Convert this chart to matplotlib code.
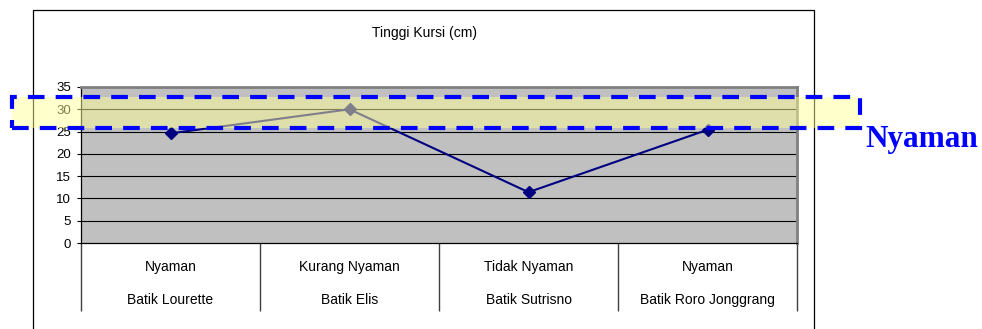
import matplotlib.pyplot as plt
from matplotlib.patches import Rectangle
from matplotlib.transforms import blended_transform_factory

plt.rcParams['font.family'] = ['Liberation Sans', 'DejaVu Sans']
plt.rcParams['lines.scale_dashes'] = False

# data
brands = ['Batik Lourette', 'Batik Elis', 'Batik Sutrisno', 'Batik Roro Jonggrang']
comfort = ['Nyaman', 'Kurang Nyaman', 'Tidak Nyaman', 'Nyaman']
height_cm = [24.6, 30.0, 11.4, 25.4]
yticks = [0, 5, 10, 15, 20, 25, 30, 35]
band = [25.7, 32.8]   # the "Nyaman" highlight band

W, H = 982, 329
fig = plt.figure(figsize=(W / 100, H / 100), dpi=100)
fig.patch.set_facecolor('white')

# plot area in pixel terms
left, right, top, bottom = 81, 797, 87, 243
ax = fig.add_axes([left / W, 1 - bottom / H, (right - left) / W, (bottom - top) / H])
ax.set_facecolor('#c0c0c0')

x = list(range(len(brands)))
ax.plot(x, height_cm, color='#000080', lw=1.5, marker='D', markersize=6,
        markerfacecolor='#000080', markeredgecolor='#000080', zorder=3, clip_on=False)

ax.set_xlim(-0.5, len(brands) - 0.5)
ax.set_ylim(0, 35)
ax.set_yticks(yticks)
ax.set_yticklabels([str(v) for v in yticks], fontsize=9.5)
ax.tick_params(axis='y', length=3, width=0.8, pad=4, colors='black')

for v in yticks[1:-1]:
    ax.axhline(v, color='black', lw=0.8, zorder=1)

for s in ['top', 'right']:
    ax.spines[s].set_color('#808080')
    ax.spines[s].set_linewidth(2)
ax.spines['left'].set_color('black')
ax.spines['bottom'].set_color('black')
ax.spines['left'].set_linewidth(0.9)
ax.spines['bottom'].set_linewidth(0.9)

# category separators below the axis
ax.set_xticks(x)
ax.set_xticklabels([])
ax.tick_params(axis='x', which='major', length=0)
ax.set_xticks([i - 0.5 for i in range(len(brands) + 1)], minor=True)
ax.tick_params(axis='x', which='minor', length=49, width=1, color='#404040', direction='out')

for i in x:
    ax.annotate(comfort[i], xy=(i, 0), xycoords=('data', 'axes fraction'),
                xytext=(0, -17), textcoords='offset points', ha='center', va='center',
                fontsize=10)
    ax.annotate(brands[i], xy=(i, 0), xycoords=('data', 'axes fraction'),
                xytext=(0, -41), textcoords='offset points', ha='center', va='center',
                fontsize=10)

# chart frame (runs off the bottom of the image)
frame = Rectangle((33 / W, -0.1), (814 - 33) / W, 1.1 - 10 / H, transform=fig.transFigure,
                  fill=False, edgecolor='black', lw=0.9, zorder=0)
fig.add_artist(frame)

fig.text(425 / W, 1 - 33 / H, 'Tinggi Kursi (cm)', ha='center', va='center', fontsize=10)

# highlighted "Nyaman" band with dashed border
tr = blended_transform_factory(fig.transFigure, ax.transData)
fill = Rectangle((12 / W, band[0]), (860 - 12) / W, band[1] - band[0], transform=tr,
                 facecolor='#ffff99', alpha=0.5, edgecolor='none', zorder=5)
fig.add_artist(fill)
box = Rectangle((12 / W, band[0]), (860 - 12) / W, band[1] - band[0], transform=tr,
                fill=False, edgecolor='#0000ff', lw=3, linestyle=(0, (12, 8)), zorder=6)
fig.add_artist(box)

fig.text(865 / W, 1 - 147 / H, 'Nyaman', ha='left', va='baseline', fontsize=22.5,
         fontweight='bold', color='#0000ff', family=['Liberation Serif', 'DejaVu Serif'])

fig.savefig('out.png', dpi=100)
